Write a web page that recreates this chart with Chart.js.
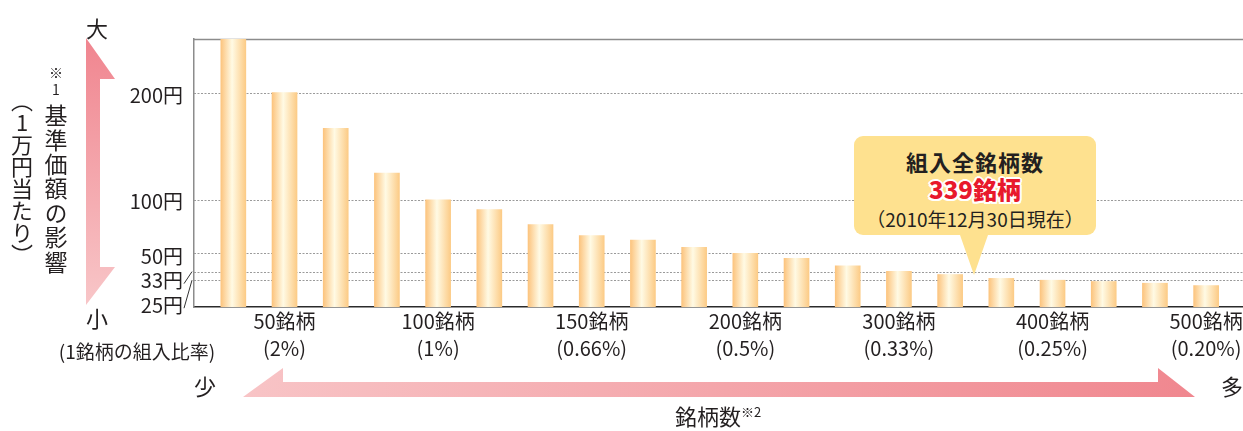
<!DOCTYPE html>
<html lang="ja">
<head>
<meta charset="utf-8">
<title>銘柄数と基準価額の影響</title>
<script src="https://cdn.jsdelivr.net/npm/chart.js@4.4.1/dist/chart.umd.min.js"></script>
<style>
  html, body { margin: 0; padding: 0; background: #fff; }
  body { font-family: "Noto Sans CJK JP", "Noto Sans", sans-serif; color: #231f20; }
  #wrap { position: relative; width: 1243px; height: 431px; overflow: hidden; }
  #chart { position: absolute; left: 0; top: 0; }
  #arrows { position: absolute; left: 0; top: 0; }
  .lbl { position: absolute; white-space: nowrap; line-height: 1; transform: translate(-50%, -50%); }
  .vcol { position: absolute; writing-mode: vertical-rl; white-space: nowrap; transform: translateX(-50%); }
  .up { text-orientation: upright; }
  .note { font-size: 14px; text-orientation: upright; letter-spacing: 3px; margin-inline-end: 4px; }
  #callout {
    position: absolute; left: 854px; top: 136px; width: 242px; height: 99px;
    background: #fee18f; border-radius: 9px;
  }
  #callout::after {
    content: ''; position: absolute; left: 106px; top: 99px;
    border-left: 14px solid transparent; border-right: 14px solid transparent;
    border-top: 40px solid #fee18f;
  }
  .co { position: absolute; left: 50%; white-space: nowrap; line-height: 1; transform: translate(-50%, -50%); }
</style>
</head>
<body>
<div id="wrap">
  <svg id="arrows" width="1243" height="431">
    <defs>
      <linearGradient id="gV" x1="0" y1="0" x2="0" y2="1">
        <stop offset="0" stop-color="#f0858f"/>
        <stop offset="1" stop-color="#f8c6c8"/>
      </linearGradient>
      <linearGradient id="gH" x1="0" y1="0" x2="1" y2="0">
        <stop offset="0" stop-color="#f8c4c6"/>
        <stop offset="1" stop-color="#f0878f"/>
      </linearGradient>
    </defs>
    <polygon points="86,38 115,79 100,79 100,267 115,267 86,305" fill="url(#gV)"/>
    <polygon points="243,397 283,368 283,382 1158,382 1158,368 1195,397" fill="url(#gH)"/>
  </svg>

  <canvas id="chart" width="1243" height="431"></canvas>

  <!-- vertical axis captions -->
  <div class="lbl" style="left:97px; top:27px; font-size:22px;">大</div>
  <div class="lbl" style="left:97px; top:317px; font-size:22px;">小</div>
  <div class="vcol" style="left:56px; top:66px; font-size:23px; line-height:26px; letter-spacing:1.4px;"><span class="note">※1</span>基準価額の影響</div>
  <div class="vcol" style="left:22px; top:90px; font-size:22px; line-height:24px;">（<span class="up">1</span>万円当たり）</div>

  <!-- horizontal axis captions -->
  <div class="lbl" style="left:137px; top:350px; font-size:19px;">(1銘柄の組入比率)</div>
  <div class="lbl" style="left:205px; top:385px; font-size:22px;">少</div>
  <div class="lbl" style="left:1232px; top:385px; font-size:22px;">多</div>
  <div class="lbl" style="left:718px; top:415px; font-size:22px;">銘柄数<span style="font-size:13px; vertical-align:8px;">※2</span></div>

  <div id="callout">
    <div class="co" style="top:25px; font-size:22px; font-weight:700; letter-spacing:1px;">組入全銘柄数</div>
    <div class="co" style="top:53px; font-size:24px; font-weight:900; color:#e8192c;
      text-shadow: -2px 0 #fff, 2px 0 #fff, 0 -2px #fff, 0 2px #fff, -1.5px -1.5px #fff, 1.5px 1.5px #fff, -1.5px 1.5px #fff, 1.5px -1.5px #fff;">339銘柄</div>
    <div class="co" style="top:82px; font-size:19px;">（2010年12月30日現在）</div>
  </div>
</div>

<script>
// 1万円当たりの基準価額への影響（円）。銘柄数が増えるほど小さくなる
const barValues = [250, 200, 166.7, 125, 100, 90.9, 76.9, 66.7, 62.5, 55.6,
                   50, 45.5, 38.5, 33.3, 30.3, 26.7, 25, 23.8, 22.2, 20];

// 目盛りを付ける棒の位置と、その下に出すラベル
const tickIndex = [1, 4, 7, 10, 13, 16, 19];
const tickNames = ['50銘柄', '100銘柄', '150銘柄', '200銘柄', '300銘柄', '400銘柄', '500銘柄'];
const tickShares = ['(2%)', '(1%)', '(0.66%)', '(0.5%)', '(0.33%)', '(0.25%)', '(0.20%)'];

// 縦軸の目盛り（円）
const yTicks = [200, 100, 50, 33, 25];

// 下の方の目盛りラベルは詰まるので下にずらして引き出し線でつなぐ
const yLabelShift = { 200: 3, 100: 2, 50: 3, 33: 9, 25: 25 };

const FONT = '"Noto Sans CJK JP", "Noto Sans", sans-serif';
const INK = '#231f20';

// ========================
// 枠線・点線・縦軸ラベル
// ========================
const framePlugin = {
  id: 'frame',
  beforeDatasetsDraw(chart) {
    const { ctx, chartArea, scales: { y } } = chart;
    ctx.save();
    // 上の枠線
    ctx.strokeStyle = '#8c8c8c';
    ctx.lineWidth = 1.5;
    ctx.beginPath();
    ctx.moveTo(chartArea.left, chartArea.top + 0.5);
    ctx.lineTo(chartArea.right, chartArea.top + 0.5);
    ctx.stroke();
    // 目盛りの点線
    ctx.strokeStyle = '#9a9a9a';
    ctx.lineWidth = 1;
    ctx.setLineDash([2, 1.5]);
    yTicks.forEach(v => {
      const py = Math.round(y.getPixelForValue(v)) + 0.5;
      ctx.beginPath();
      ctx.moveTo(chartArea.left, py);
      ctx.lineTo(chartArea.right, py);
      ctx.stroke();
    });
    ctx.restore();
  },
  afterDraw(chart) {
    const { ctx, chartArea, scales: { y } } = chart;
    const right = chartArea.left - 11;
    ctx.save();
    ctx.font = `20px ${FONT}`;
    ctx.fillStyle = INK;
    ctx.textAlign = 'right';
    ctx.textBaseline = 'middle';
    yTicks.forEach(v => {
      const lineY = y.getPixelForValue(v);
      const shift = yLabelShift[v] || 0;
      const labelY = lineY + shift;
      ctx.fillText(`${v}円`, right, labelY);
      if (shift > 5) {
        ctx.strokeStyle = '#333';
        ctx.lineWidth = 1;
        ctx.beginPath();
        ctx.moveTo(right + 1, labelY + 3);
        ctx.lineTo(chartArea.left - 2, lineY);
        ctx.stroke();
      }
    });
    ctx.restore();
  }
};

// 棒は円柱っぽく横方向のグラデーション
function barFill(c) {
  const chart = c.chart;
  const xs = chart.scales.x;
  if (!xs || c.dataIndex == null) return '#fdd596';
  const cx = xs.getPixelForValue(c.dataIndex);
  if (!Number.isFinite(cx)) return '#fdd596';
  const g = chart.ctx.createLinearGradient(cx - 12.5, 0, cx + 12.5, 0);
  g.addColorStop(0, '#fcc47e');
  g.addColorStop(0.45, '#fffae4');
  g.addColorStop(1, '#fccb86');
  return g;
}

new Chart(document.getElementById('chart'), {
  type: 'bar',
  data: {
    datasets: [{
      data: barValues.map((v, i) => ({ x: i, y: v })),
      backgroundColor: barFill,
      borderWidth: 0,
      barThickness: 25
    }]
  },
  options: {
    responsive: false,
    animation: false,
    devicePixelRatio: 1,
    layout: { padding: { top: 39, right: 0, left: 0, bottom: 0 } },
    plugins: { legend: { display: false }, tooltip: { enabled: false } },
    scales: {
      x: {
        type: 'linear',
        min: -0.768,
        max: 19.72,
        offset: false,
        grid: { display: false, drawTicks: false, offset: false },
        border: { display: true, color: '#2b2b2b', width: 1.5 },
        afterBuildTicks: s => { s.ticks = tickIndex.map(v => ({ value: v })); },
        afterFit: s => {
          s.height = 124;
          s.paddingLeft = 0;
          s.paddingRight = 0;
        },
        ticks: {
          autoSkip: false,
          maxRotation: 0,
          padding: 1,
          color: INK,
          font: { family: FONT, size: 20, lineHeight: 1.35 },
          callback: v => {
            const i = tickIndex.indexOf(v);
            return i < 0 ? '' : [tickNames[i], tickShares[i]];
          }
        }
      },
      y: {
        min: 0,
        max: 250,
        grid: { display: false, drawTicks: false },
        border: { display: true, color: '#8c8c8c', width: 1.5 },
        ticks: { display: false },
        afterFit: s => { s.width = 194; }
      }
    }
  },
  plugins: [framePlugin]
});
</script>
</body>
</html>
